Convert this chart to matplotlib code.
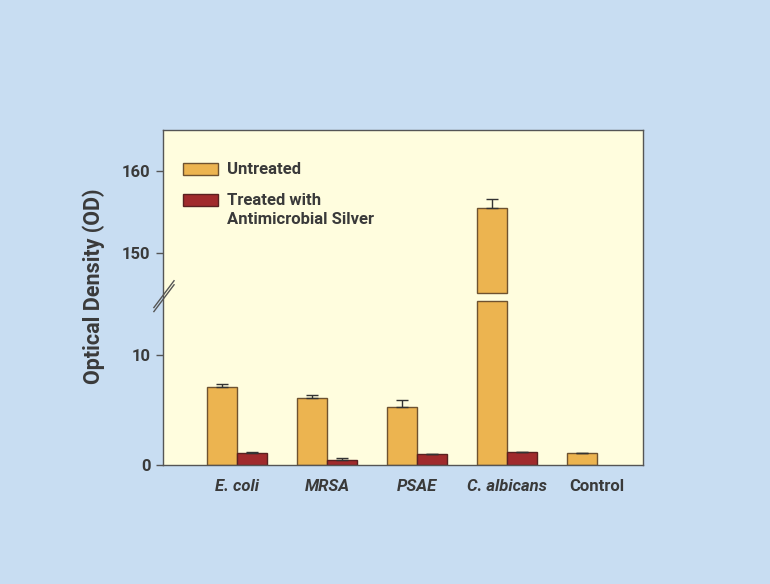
import numpy as np
import matplotlib
matplotlib.use("Agg")
import matplotlib.pyplot as plt
from matplotlib.patches import Rectangle

# data
categories = ["E. coli", "MRSA", "PSAE", "C. albicans", "Control"]
italic = [True, True, True, True, False]
untreated = [7.1, 6.1, 5.3, 155.5, 1.05]
untreated_err = [0.3, 0.25, 0.65, 1.1, 0.0]
treated = [1.05, 0.45, 0.97, 1.2, np.nan]
treated_err = [0.15, 0.18, 0.05, 0.0, 0.0]
yticks = [0, 10, 150, 160]

# broken axis: lower part 0..15, upper part 144.3..165
BREAK_LOW, BREAK_HIGH = 15.0, 144.3
seg_y = [0, BREAK_LOW, BREAK_HIGH, 170]
seg_px = [0, 165, 165.5, 165.5 + (170 - BREAK_HIGH) * 8.2]


def forward(y):
    return np.interp(y, seg_y, seg_px)


def inverse(p):
    return np.interp(p, seg_px, seg_y)


plt.rcParams['font.family'] = ['Roboto', 'DejaVu Sans']
TXT = '#3a3a3a'
C_UN = '#ECB450'
C_TR = '#A02A2C'
EDGE = '#6e5230'
FS = 12

fig = plt.figure(figsize=(7.7, 5.84), dpi=100)
fig.patch.set_facecolor('#C8DDF2')
ax = fig.add_axes([163 / 770, 1 - 465 / 584, 480 / 770, 335 / 584])
ax.set_facecolor('#FFFDDE')
ax.set_yscale('function', functions=(forward, inverse))

x = np.arange(len(categories))
w = 0.333
un = np.array(untreated)
low_h = np.minimum(un, BREAK_LOW - 0.05)
ax.bar(x - w / 2, low_h, w, color=C_UN, edgecolor=EDGE, linewidth=1)
up_bottom = BREAK_HIGH + 0.75
for xi, h in zip(x, un):
    if h > BREAK_HIGH:
        ax.bar(xi - w / 2, h - up_bottom, w, bottom=up_bottom,
               color=C_UN, edgecolor=EDGE, linewidth=1)
ax.bar(x + w / 2, treated, w, color=C_TR, edgecolor='#5a2020', linewidth=1)

err_kw = dict(fmt='none', ecolor='#333333', elinewidth=1, capsize=4, capthick=1)
ue = np.array(untreated_err)
te = np.array(treated_err)
ax.errorbar(x - w / 2, un, yerr=[np.zeros_like(ue), ue], **err_kw)
ax.errorbar(x + w / 2, treated, yerr=[np.zeros_like(te), te], **err_kw)

ax.set_xlim(-0.822, 4.511)
ax.set_ylim(0, 165)
ax.set_yticks(yticks)
ax.set_yticklabels([str(t) for t in yticks], fontsize=FS, fontweight='bold', color=TXT)
ax.set_xticks(x)
ax.set_xticklabels(categories, fontsize=FS, fontweight='bold', color=TXT)
for lab, it in zip(ax.get_xticklabels(), italic):
    if it:
        lab.set_style('italic')
ax.tick_params(axis='x', length=0, pad=10)
ax.tick_params(axis='y', length=5, width=1, color='#555555', pad=4)
for s in ax.spines.values():
    s.set_color('#555555')
    s.set_linewidth(1)

ax.set_ylabel('Optical Density (OD)', fontsize=15.5, fontweight='bold', color=TXT, labelpad=12)
ax.yaxis.label.set_y(0.534)

# break marks on the y axis
for dy in (0.0, 0.012):
    ax.plot([-0.019, 0.023], [0.458 + dy, 0.538 + dy], transform=ax.transAxes,
            color='#555555', linewidth=1, clip_on=False)

# legend drawn by hand
ax.add_patch(Rectangle((0.042, 0.865), 0.073, 0.037, transform=ax.transAxes,
                       facecolor=C_UN, edgecolor=EDGE, linewidth=1))
ax.add_patch(Rectangle((0.042, 0.772), 0.073, 0.037, transform=ax.transAxes,
                       facecolor=C_TR, edgecolor='#5a2020', linewidth=1))
ax.text(0.133, 0.883, 'Untreated', transform=ax.transAxes, va='center',
        fontsize=FS, fontweight='bold', color=TXT)
ax.text(0.133, 0.79, 'Treated with', transform=ax.transAxes, va='center',
        fontsize=FS, fontweight='bold', color=TXT)
ax.text(0.133, 0.733, 'Antimicrobial Silver', transform=ax.transAxes, va='center',
        fontsize=FS, fontweight='bold', color=TXT)

fig.savefig('out.png', dpi=100, facecolor=fig.get_facecolor())
